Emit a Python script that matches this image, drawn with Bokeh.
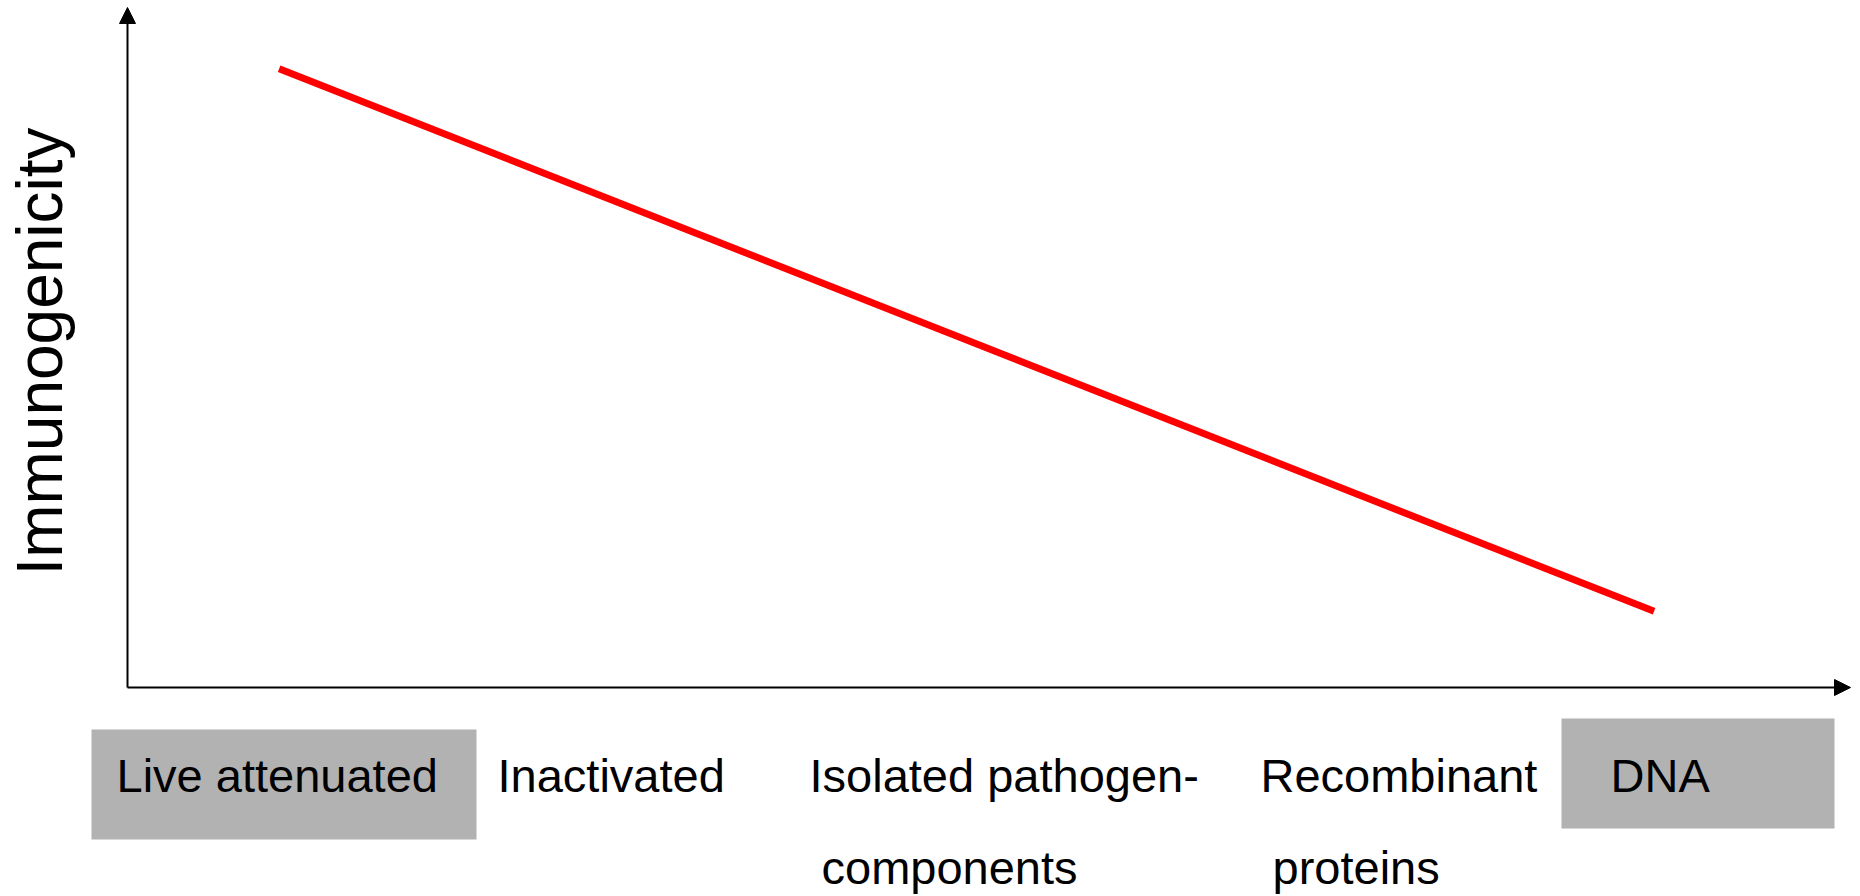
from bokeh.plotting import figure
from bokeh.models import Range1d, Arrow, NormalHead, ColumnDataSource
from bokeh.core.properties import value
from bokeh.embed import file_html
from bokeh.resources import INLINE
import math

# ---------------- data ----------------
categories = ["Live attenuated", "Inactivated", "Isolated pathogen-\ncomponents",
              "Recombinant\nproteins", "DNA"]
highlighted = [True, False, False, False, True]
y_label = "Immunogenicity"
# trend of immunogenicity (axis fractions) from first to last vaccine type
trend_x = [0.088, 0.886]
trend_y = [0.910, 0.112]

# ---------------- layout (pixels of the 1860x896 canvas) ----------------
W, H = 1860, 896
AX_X0, AX_Y0 = 127, 687        # origin of the drawn axes
AX_X1, AX_Y1 = 1850, 7         # arrow tips
SX = AX_X1 - AX_X0
SY = AX_Y0 - AX_Y1

def fx(px):
    return (px - AX_X0) / SX

def fy(py):
    return (AX_Y0 - py) / SY

label_left_px = [116, 497, 809, 1260, 1610]
row_baselines_px = [775, 867]
row_indent_px = [0, 12]
box_px = {0: (91, 476, 729, 839), 4: (1561, 1834, 718, 828)}

FONT = "Liberation Sans"

p = figure(width=W, height=H, x_range=Range1d(fx(0), fx(W)), y_range=Range1d(fy(H), fy(0)),
           min_border=0, toolbar_location=None, output_backend="svg")
p.axis.visible = False
p.grid.visible = False
p.outline_line_color = None
p.background_fill_color = "white"
p.border_fill_color = "white"

# gray boxes behind highlighted categories
bl, br, bt, bb = [], [], [], []
for i, h in enumerate(highlighted):
    if h:
        l, r, t, b = box_px[i]
        bl.append(fx(l)); br.append(fx(r)); bt.append(fy(t)); bb.append(fy(b))
p.quad(left=bl, right=br, top=bt, bottom=bb, fill_color="#b2b2b2", line_color=None)

# axes with arrow heads
p.add_layout(Arrow(end=NormalHead(size=16, fill_color="black", line_color="black", line_width=1),
                   x_start=0, y_start=0, x_end=1, y_end=0, line_width=2, line_color="black"))
p.add_layout(Arrow(end=NormalHead(size=16, fill_color="black", line_color="black", line_width=1),
                   x_start=0, y_start=0, x_end=0, y_end=1, line_width=2, line_color="black"))

# trend line
p.line(trend_x, trend_y, line_color="#ff0000", line_width=7)

# category labels (split into rows)
tx, ty, tt = [], [], []
for i, c in enumerate(categories):
    for j, line in enumerate(c.split("\n")):
        tx.append(fx(label_left_px[i] + row_indent_px[j]))
        ty.append(fy(row_baselines_px[j]))
        tt.append(line)
src = ColumnDataSource(dict(x=tx, y=ty, t=tt))
p.text(x="x", y="y", text="t", source=src, text_font=value(FONT), text_font_size="47px",
       text_align="left", text_baseline="alphabetic", text_color="black")

# y-axis label
p.text(x=[fx(39)], y=[fy(351)], text=[y_label], angle=math.pi / 2, text_font=value(FONT),
       text_font_size="64px", text_align="center", text_baseline="alphabetic", text_color="black")

open("out.html", "w").write(file_html(p, INLINE))
